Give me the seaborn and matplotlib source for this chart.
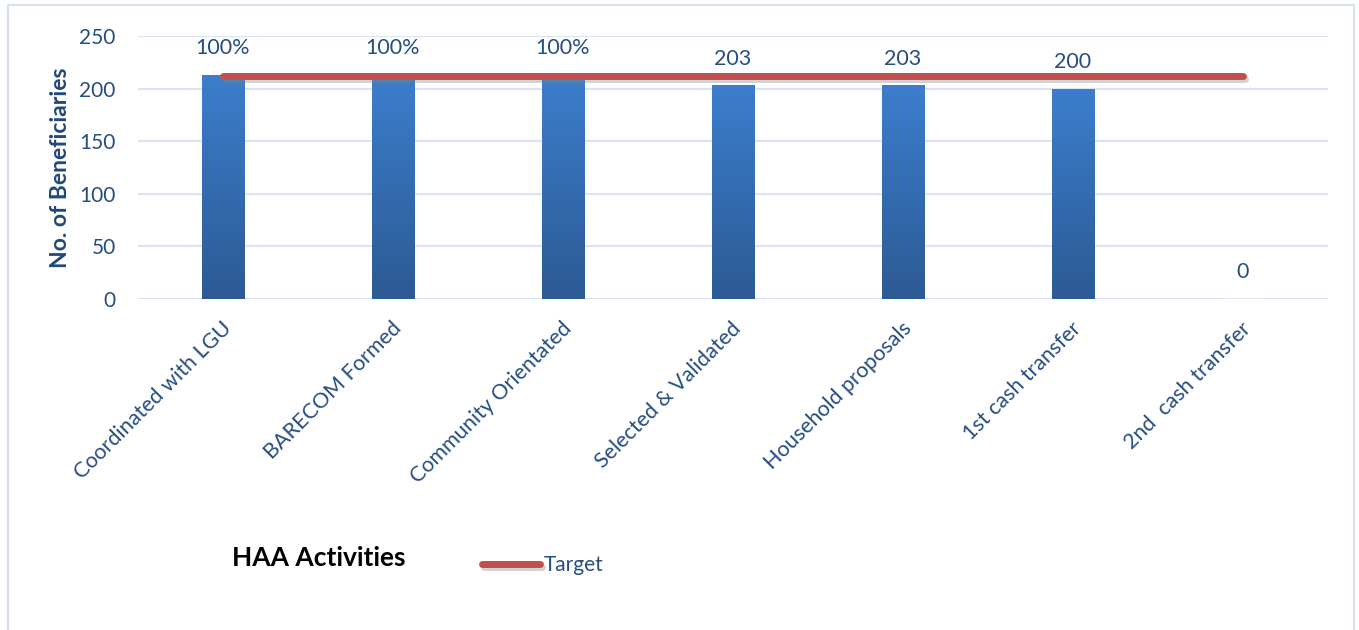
import matplotlib
matplotlib.use("Agg")
import matplotlib.pyplot as plt
import matplotlib.patheffects as pe
import matplotlib.transforms as mtransforms
from matplotlib.colors import LinearSegmentedColormap
from matplotlib.patches import Rectangle
import numpy as np
import pandas as pd
import seaborn as sns

categories = [
    "Coordinated with LGU", "BARECOM Formed", "Community Orientated",
    "Selected & Validated", "Household proposals", "1st cash transfer",
    "2nd  cash transfer",
]
beneficiaries = [213, 213, 213, 203, 203, 200, 0]
target = [212, 212, 212, 212, 212, 212, 212]
bar_labels = ["100%", "100%", "100%", "203", "203", "200", "0"]
y_ticks = [0, 50, 100, 150, 200, 250]

TEXT_BLUE = "#264D80"
GRID = "#D9E3F2"

sns.set_theme(style="white")
plt.rcParams["font.family"] = ["Lato", "DejaVu Sans"]

df = pd.DataFrame({"activity": categories, "value": beneficiaries, "target": target})

fig = plt.figure(figsize=(13.59, 6.30), dpi=100)
ax = fig.add_axes([138 / 1359, 1 - 299 / 630, 1190 / 1359, 263 / 630])

sns.barplot(data=df, x="activity", y="value", width=0.25, color="#3A7BCA",
            ax=ax, zorder=2, saturation=1)

# vertical gradient on each bar
cmap = LinearSegmentedColormap.from_list("bar", ["#2C5A94", "#3C7ECD"])
grad = np.linspace(0, 1, 256).reshape(-1, 1)
for p in ax.patches:
    x0, y0 = p.get_x(), p.get_y()
    w, h = p.get_width(), p.get_height()
    if h <= 0:
        continue
    im = ax.imshow(grad, cmap=cmap, aspect="auto", origin="lower",
                   extent=[x0, x0 + w, y0, y0 + h], zorder=2.1)
    im.set_clip_path(p)

ax.bar_label(ax.containers[0], labels=bar_labels, padding=12,
             fontsize=15.5, color=TEXT_BLUE)

sns.lineplot(data=df, x="activity", y="target", sort=False, ax=ax,
             color="#C0504D", linewidth=5, label="Target", zorder=3,
             solid_capstyle="round",
             path_effects=[pe.SimpleLineShadow(offset=(1.5, -2.5), shadow_color="gray", alpha=0.35),
                           pe.Normal()])

ax.set_xlim(-0.5, 6.5)
ax.set_ylim(0, 250)
ax.set_yticks(y_ticks)
ax.yaxis.grid(True, color=GRID, linewidth=1.5, zorder=0)
ax.set_axisbelow(True)
for s in ax.spines.values():
    s.set_visible(False)

ax.tick_params(axis="y", length=0, pad=16, labelsize=15, labelcolor=TEXT_BLUE)
ax.tick_params(axis="x", length=0, pad=14, labelsize=15.5, labelcolor=TEXT_BLUE)
offset = mtransforms.ScaledTranslation(-2 / 100, 0, fig.dpi_scale_trans)
for lbl in ax.get_xticklabels():
    lbl.set_rotation(45)
    lbl.set_ha("right")
    lbl.set_rotation_mode("anchor")
    lbl.set_transform(lbl.get_transform() + offset)

ax.set_ylabel("No. of Beneficiaries", fontsize=16.5, fontweight="bold",
              color="#22487A", labelpad=6)
ax.set_xlabel("HAA Activities", fontsize=19, fontweight="bold", color="black",
              ha="left", va="center")
ax.xaxis.set_label_coords((232 - 138) / 1190, (299 - 558) / 263)

leg = ax.legend(loc="center left", bbox_to_anchor=(482 / 1359, 1 - 565 / 630),
                bbox_transform=fig.transFigure, frameon=False, borderpad=0,
                borderaxespad=0, handlelength=2.8, handletextpad=0.15,
                fontsize=15)
for t in leg.get_texts():
    t.set_color(TEXT_BLUE)

fig.patches.append(Rectangle((8 / 1359, -0.02), 1346 / 1359, 1.02 - 5 / 630,
                             transform=fig.transFigure, fill=False,
                             edgecolor="#D6E1F1", linewidth=1.5))

fig.savefig("out.png", dpi=100)
